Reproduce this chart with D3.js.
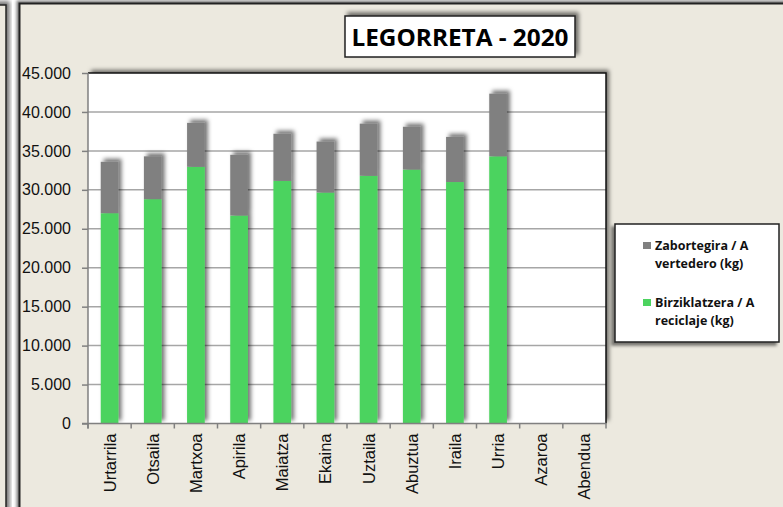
<!DOCTYPE html>
<html>
<head>
<meta charset="utf-8">
<script src="https://cdn.jsdelivr.net/npm/d3@7"></script>
<style>
  body { margin: 0; background: #fff; }
  svg { display: block; }
</style>
</head>
<body>
<svg id="CHART"></svg>
<script>
const months = ["Urtarrila", "Otsaila", "Martxoa", "Apirila", "Maiatza", "Ekaina",
  "Uztaila", "Abuztua", "Iraila", "Urria", "Azaroa", "Abendua"];
// kg (Azaroa / Abendua empty)
const reciclaje = [27000, 28800, 32950, 26700, 31150, 29650, 31800, 32600, 31000, 34300, null, null];
const vertedero = [6600, 5500, 5650, 7800, 6050, 6550, 6700, 5500, 5800, 8050, null, null];
const yTicks = [0, 5000, 10000, 15000, 20000, 25000, 30000, 35000, 40000, 45000];
const title = "LEGORRETA - 2020";
const seriesNames = ["Zabortegira / A|vertedero (kg)", "Birziklatzera / A|reciclaje (kg)"];

const width = 783;
const height = 507;
const beige = "#ECE9DF";
const green = "#4CD35F";
const grey = "#808080";
const labelFont = "'Liberation Sans', Arial, sans-serif";
const boldFont = "'Open Sans', Lato, sans-serif";

const svg = d3.select("#CHART").attr("width", width).attr("height", height);

const defs = svg.append("defs");
const shadow = (id, dx, dy, sd, op) => {
  defs.append("filter").attr("id", id)
    .attr("x", "-20%").attr("y", "-20%").attr("width", "140%").attr("height", "140%")
    .append("feDropShadow")
    .attr("dx", dx).attr("dy", dy).attr("stdDeviation", sd)
    .attr("flood-color", "#000").attr("flood-opacity", op);
};
shadow("sh-up", 3, -3, 2, 0.55);
shadow("sh-box", -2, -2, 1.5, 0.5);
shadow("sh-leg", -3, 3, 1.5, 0.5);

// sheet panels
svg.append("rect").attr("x", -20).attr("y", 5).attr("width", 26).attr("height", 540)
  .attr("fill", beige).attr("stroke", "#222").attr("stroke-width", 1.5)
  .attr("filter", "url(#sh-up)");
svg.append("rect").attr("x", 19.5).attr("y", 3.5).attr("width", 800).attr("height", 540)
  .attr("fill", beige).attr("stroke", "#222").attr("stroke-width", 2)
  .attr("filter", "url(#sh-box)");

// plot area
const plot = { left: 88, right: 606, top: 73, bottom: 423.5 };

const x = d3.scaleBand().domain(months)
  .range([plot.left, plot.right])
  .paddingInner(0.59).paddingOuter(0.295);
const y = d3.scaleLinear().domain([0, 45000]).range([plot.bottom, plot.top]);

svg.append("rect")
  .attr("x", plot.left).attr("y", plot.top)
  .attr("width", plot.right - plot.left).attr("height", plot.bottom - plot.top)
  .attr("fill", "#fff").attr("filter", "url(#sh-up)");

// gridlines
svg.append("g")
  .selectAll("line")
  .data(yTicks.filter((d) => d > 0 && d < 45000))
  .join("line")
  .attr("x1", plot.left).attr("x2", plot.right)
  .attr("y1", (d) => y(d)).attr("y2", (d) => y(d))
  .attr("stroke", "#A6A6A6").attr("stroke-width", 1.5);

// top / right border of the plot area
svg.append("path")
  .attr("d", `M${plot.left},${plot.top}H${plot.right}V${plot.bottom}`)
  .attr("fill", "none").attr("stroke", "#111").attr("stroke-width", 1.5);

// stacked bars
const rows = months.map((m, i) => ({ month: m, reciclaje: reciclaje[i] || 0, vertedero: vertedero[i] || 0 }));
const stacked = d3.stack().keys(["reciclaje", "vertedero"])(rows);
const colors = { reciclaje: green, vertedero: grey };

svg.append("g").attr("filter", "url(#sh-up)")
  .selectAll("g")
  .data(stacked)
  .join("g")
  .attr("fill", (s) => colors[s.key])
  .selectAll("rect")
  .data((s) => s)
  .join("rect")
  .attr("x", (d) => x(d.data.month))
  .attr("width", x.bandwidth())
  .attr("y", (d) => y(d[1]))
  .attr("height", (d) => y(d[0]) - y(d[1]));

// y axis
const yAxis = svg.append("g")
  .attr("transform", `translate(${plot.left},0)`)
  .call(d3.axisLeft(y).tickValues(yTicks).tickSize(6).tickPadding(11)
    .tickFormat((d) => (d === 0 ? "0" : d3.format(",")(d).replace(/,/g, "."))));
yAxis.select(".domain").attr("stroke", grey).attr("stroke-width", 1.5)
  .attr("d", `M0,${plot.top}V${plot.bottom + 5}`);
yAxis.selectAll(".tick line").attr("stroke", grey).attr("stroke-width", 1.5);
yAxis.selectAll("text")
  .attr("font-family", labelFont)
  .attr("font-size", 16).attr("fill", "#111");

// x axis
const xAxis = svg.append("g").attr("transform", `translate(0,${plot.bottom})`);
xAxis.append("line")
  .attr("x1", plot.left - 6).attr("x2", plot.right)
  .attr("stroke", grey).attr("stroke-width", 1.5);
xAxis.selectAll(".xtick")
  .data(d3.range(months.length + 1))
  .join("line")
  .attr("class", "xtick")
  .attr("x1", (i) => plot.left + i * x.step()).attr("x2", (i) => plot.left + i * x.step())
  .attr("y1", 0).attr("y2", 5)
  .attr("stroke", grey).attr("stroke-width", 1.5);
xAxis.selectAll("text")
  .data(months)
  .join("text")
  .attr("transform", (d) => `translate(${x(d) + x.bandwidth() / 2},10) rotate(-90)`)
  .attr("dy", "0.36em")
  .attr("text-anchor", "end")
  .attr("font-family", labelFont)
  .attr("font-size", 16.5).attr("fill", "#111")
  .text((d) => d);

// title box
const tb = svg.append("g");
tb.append("rect")
  .attr("x", 345).attr("y", 16).attr("width", 230).attr("height", 41)
  .attr("fill", "#fff").attr("stroke", "#222").attr("stroke-width", 1.5)
  .attr("filter", "url(#sh-up)");
tb.append("text")
  .attr("x", 460).attr("y", 46)
  .attr("text-anchor", "middle")
  .attr("font-family", boldFont)
  .attr("font-weight", 700).attr("font-size", 24)
  .attr("textLength", 217).attr("lengthAdjust", "spacingAndGlyphs")
  .attr("fill", "#000")
  .text(title);

// legend
const lg = svg.append("g");
lg.append("rect")
  .attr("x", 615).attr("y", 224).attr("width", 164).attr("height", 118)
  .attr("fill", "#fff").attr("stroke", "#222").attr("stroke-width", 1.5)
  .attr("filter", "url(#sh-leg)");
const legendItems = [
  { name: seriesNames[0], color: grey, y: 250 },
  { name: seriesNames[1], color: green, y: 307 },
];
const li = lg.selectAll("g.item").data(legendItems).join("g").attr("class", "item");
li.append("rect")
  .attr("x", 643).attr("y", (d) => d.y - 8).attr("width", 8).attr("height", 7)
  .attr("fill", (d) => d.color);
li.each(function (d) {
  const t = d3.select(this).append("text")
    .attr("font-family", boldFont)
    .attr("font-weight", 700).attr("font-size", 12.5).attr("fill", "#111");
  d.name.split("|").forEach((line, k) => {
    t.append("tspan").attr("x", 655).attr("y", d.y + k * 18).text(line);
  });
});
</script>
</body>
</html>
